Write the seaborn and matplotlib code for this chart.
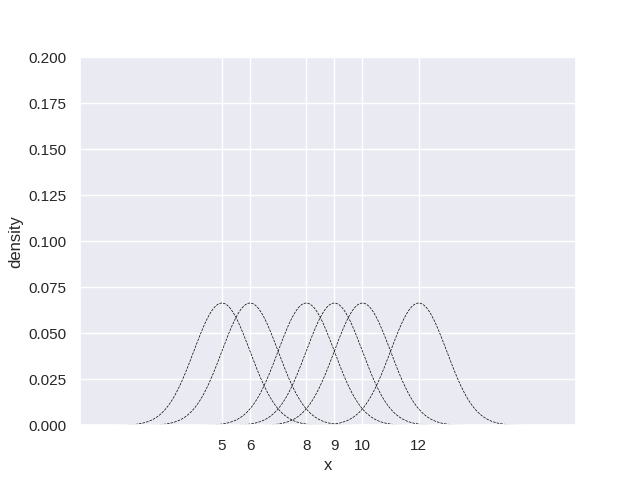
import numpy as np
import pandas as pd
import matplotlib
matplotlib.use("Agg")
import matplotlib.pyplot as plt
import seaborn as sns

centers = [5, 6, 8, 9, 10, 12]
bandwidth = 1.0
tick_labels = ["5", "6", "8", "9", "10", "12"]

sns.set_theme(style="darkgrid")
plt.rcParams['font.family'] = ['Liberation Sans', 'DejaVu Sans']
fig, ax = plt.subplots(figsize=(6.4, 4.78), dpi=100)

n = len(centers)
for c in centers:
    support = np.linspace(c - 4 * bandwidth, c + 4 * bandwidth, 200)
    dens = np.exp(-0.5 * ((support - c) / bandwidth) ** 2) / (bandwidth * np.sqrt(2 * np.pi)) / n
    df = pd.DataFrame({"x": support, "density": dens})
    sns.lineplot(data=df, x="x", y="density", ax=ax, color="black",
                 linestyle="--", linewidth=0.5)

ax.set_xticks(centers)
ax.set_xticklabels(tick_labels)
ax.set_xlim(-0.05, 17.6)
ax.set_ylim(0, 0.2)
ax.set_yticks(np.arange(0, 0.2001, 0.025))
ax.set_xlabel("x")
ax.set_ylabel("density")

fig.savefig("out.png", dpi=100)
